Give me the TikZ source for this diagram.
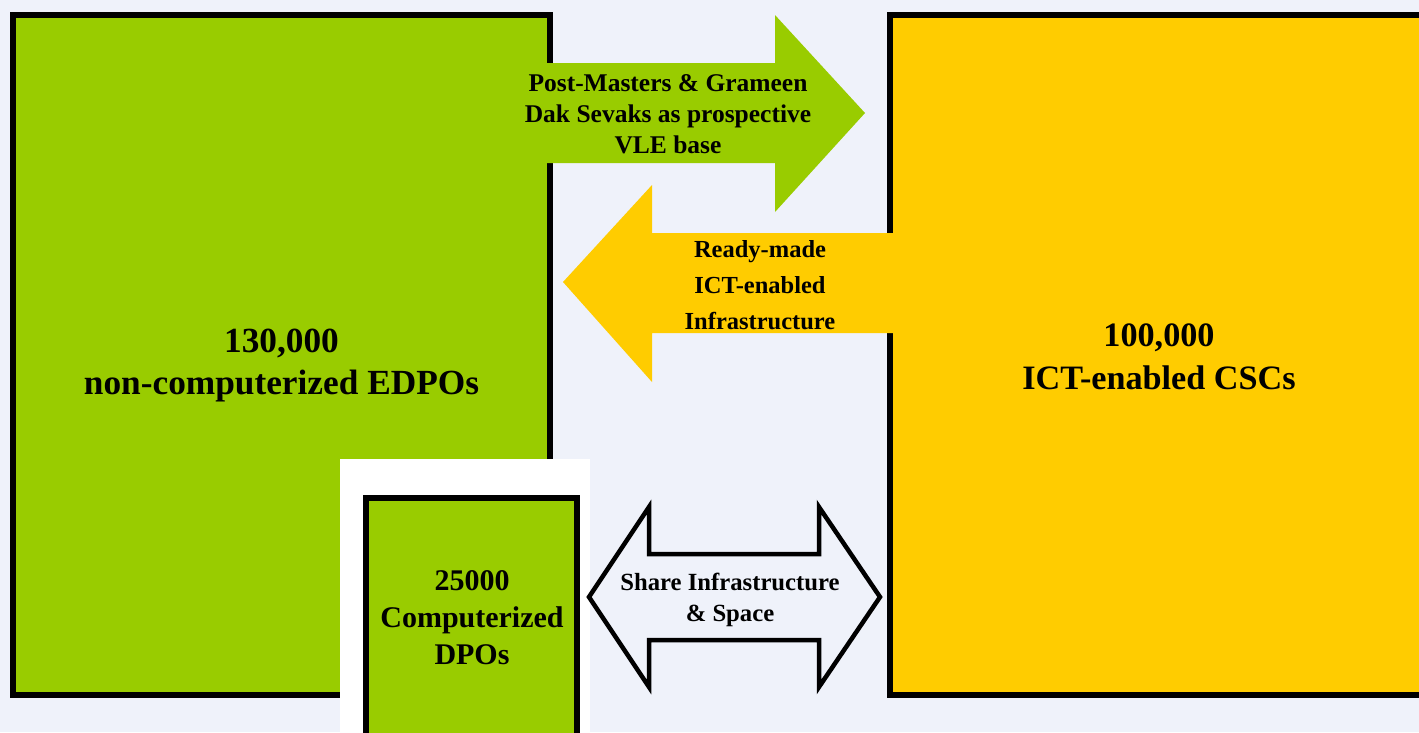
\documentclass[tikz,border=0pt]{standalone}
\usepackage{fontspec}
\setmainfont{Liberation Serif}
\definecolor{bgc}{HTML}{EFF2FA}
\definecolor{grn}{HTML}{99CC00}
\definecolor{ylw}{HTML}{FFCC00}
\tikzset{
  box/.style={draw=black, line width=6pt, inner sep=0pt, rectangle},
  lbl/.style={align=center, text=black, inner sep=0pt, font=\bfseries},
}
\begin{document}
\begin{tikzpicture}[x=1pt,y=-1pt]
\useasboundingbox (0,0) rectangle (1419,732);
\fill[bgc] (0,0) rectangle (1419,732);
% big boxes
\node[box, fill=grn, minimum width=537pt, minimum height=680pt] (edpo) at (281.5,355) {};
\node[box, fill=ylw, minimum width=538pt, minimum height=680pt] (csc) at (1159,355) {};
% green arrow
\fill[grn] (480,63) -- (775,63) -- (775,15) -- (865,113) -- (775,212) -- (775,163) -- (480,163) -- cycle;
\coordinate (gtip) at (865,113);
% yellow arrow
\fill[ylw] (563,282) -- (652,185) -- (652,233) -- (930,233) -- (930,333) -- (652,333) -- (652,382) -- cycle;
\coordinate (ytip) at (563,282);
% white panel and small box
\fill[white] (340,459) rectangle (590,745);
\node[box, fill=grn, minimum width=211pt, minimum height=262pt] (dpo) at (471.5,629) {};
% double arrow
\draw[line width=4.5pt, fill=bgc, line join=miter]
  (589,597) -- (649,507) -- (649,554) -- (819,554) -- (819,507) -- (880,597)
  -- (819,687) -- (819,640) -- (649,640) -- (649,687) -- cycle;
% labels
\node[lbl, font=\bfseries\fontsize{35.3}{42}\selectfont] (t1) at (281.5,366) {130,000\\non-computerized EDPOs};
\node[lbl, font=\bfseries\fontsize{34.2}{43}\selectfont] (t2) at (1159,357) {100,000\\ICT-enabled CSCs};
\node[lbl, font=\bfseries\fontsize{30}{37}\selectfont] (t3) at (472,618) {25000\\Computerized\\DPOs};
\node[lbl, font=\bfseries\fontsize{25.5}{31}\selectfont] (t4) at (668,114) {Post-Masters \& Grameen\\Dak Sevaks as prospective\\VLE base};
\node[lbl, font=\bfseries\fontsize{24.5}{36}\selectfont] (t5) at (760,285) {Ready-made\\ICT-enabled\\Infrastructure};
\node[lbl, font=\bfseries\fontsize{24.7}{31}\selectfont] (t6) at (730,600) {Share Infrastructure\\\& Space};
\end{tikzpicture}
\end{document}
